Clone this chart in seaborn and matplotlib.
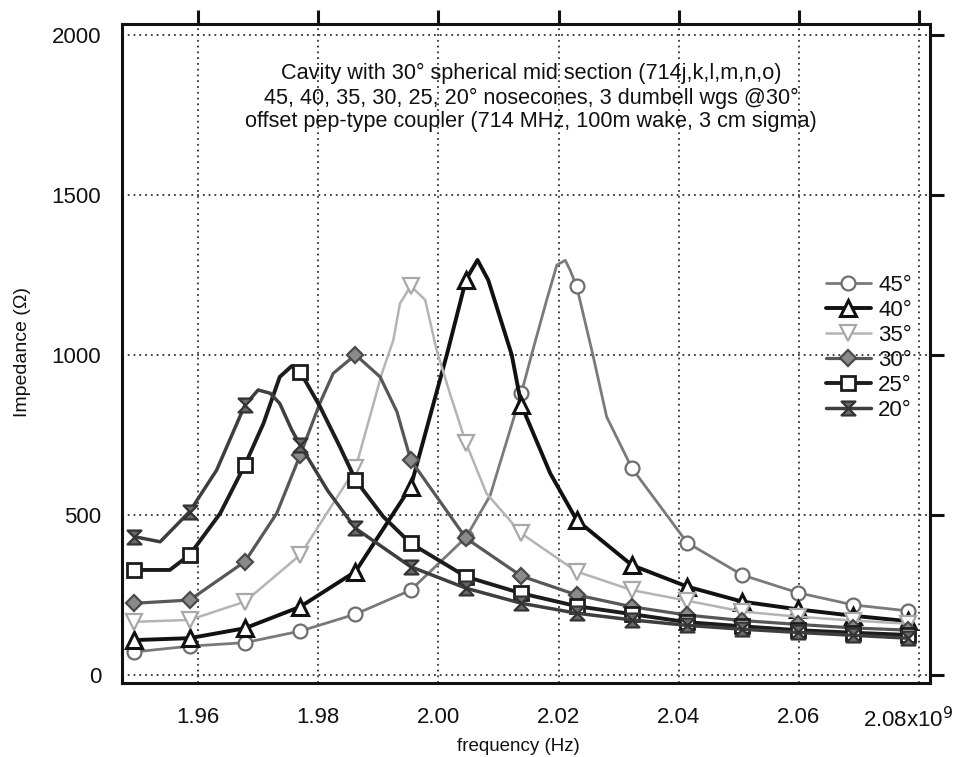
import numpy as np
import pandas as pd
import matplotlib
matplotlib.use("Agg")
import matplotlib.pyplot as plt
import matplotlib.transforms as mtransforms
from matplotlib.path import Path
import seaborn as sns

# ---------------- data (frequency in GHz) ----------------
marker_freq = [1.9494, 1.9586, 1.9678, 1.9770, 1.9862, 1.9954, 2.0046, 2.0138,
               2.0230, 2.0322, 2.0414, 2.0506, 2.0598, 2.0690, 2.0782]

f45 = [1.9494, 1.9586, 1.9678, 1.9770, 1.9862, 1.9954, 2.0046, 2.0086, 2.0138, 2.0155,
       2.0180, 2.0197, 2.0211, 2.0219, 2.0230, 2.0257, 2.0280, 2.0322, 2.0414, 2.0506,
       2.0598, 2.0690, 2.0782]
z45 = [72, 90, 101, 137, 190, 265, 430, 560, 880, 1000,
       1170, 1280, 1295, 1265, 1214, 1000, 806, 646, 413, 312,
       257, 219, 200]

f40 = [1.9494, 1.9586, 1.9678, 1.9770, 1.9862, 1.9954, 2.0014, 2.0046, 2.0065, 2.0083,
       2.0122, 2.0138, 2.0186, 2.0230, 2.0322, 2.0414, 2.0506, 2.0598, 2.0690, 2.0782]
z40 = [109, 115, 146, 213, 323, 588, 1000, 1235, 1296, 1233,
       1000, 843, 630, 484, 343, 276, 229, 205, 185, 168]

f35 = [1.9494, 1.9586, 1.9678, 1.9770, 1.9862, 1.9906, 1.9925, 1.9936, 1.9954, 1.9978,
       1.9997, 2.0019, 2.0046, 2.0080, 2.0138, 2.0230, 2.0322, 2.0414, 2.0506, 2.0598,
       2.0690, 2.0782]
z35 = [166, 172, 229, 375, 645, 942, 1046, 1160, 1215, 1171,
       1015, 880, 724, 567, 442, 323, 265, 232, 198, 182,
       170, 160]

f30 = [1.9494, 1.9586, 1.9678, 1.9731, 1.9770, 1.9803, 1.9825, 1.9862, 1.9903, 1.9931,
       1.9954, 2.0046, 2.0138, 2.0230, 2.0322, 2.0414, 2.0506, 2.0598, 2.0690, 2.0782]
z30 = [224, 234, 354, 505, 687, 850, 942, 1000, 931, 822,
       671, 427, 309, 250, 213, 187, 170, 158, 147, 140]

f25 = [1.9494, 1.9553, 1.9586, 1.9637, 1.9678, 1.9709, 1.9736, 1.9756, 1.9770, 1.9803,
       1.9836, 1.9862, 1.9908, 1.9954, 2.0046, 2.0138, 2.0230, 2.0322, 2.0414, 2.0506,
       2.0598, 2.0690, 2.0782]
z25 = [328, 328, 375, 505, 656, 786, 931, 965, 947, 838,
       713, 609, 495, 411, 307, 255, 215, 190, 165, 152,
       140, 132, 125]

f20 = [1.9494, 1.9537, 1.9586, 1.9631, 1.9678, 1.9700, 1.9720, 1.9736, 1.9756, 1.9770,
       1.9816, 1.9862, 1.9954, 2.0046, 2.0138, 2.0230, 2.0322, 2.0414, 2.0506, 2.0598,
       2.0690, 2.0782]
z20 = [432, 416, 510, 640, 843, 890, 880, 848, 765, 718,
       575, 458, 338, 271, 224, 193, 172, 155, 143, 133,
       124, 115]

series_labels = ["45°", "40°", "35°", "30°", "25°", "20°"]
series_freq = [f45, f40, f35, f30, f25, f20]
series_z = [z45, z40, z35, z30, z25, z20]

xticks = [1.96, 1.98, 2.00, 2.02, 2.04, 2.06, 2.08]
xtick_labels = ["1.96", "1.98", "2.00", "2.02", "2.04", "2.06", "2.08x10$^{9}$"]
yticks = [0, 500, 1000, 1500, 2000]
ytick_labels = ["0", "500", "1000", "1500", "2000"]

title_lines = ["Cavity with 30° spherical mid section (714j,k,l,m,n,o)",
               "45, 40, 35, 30, 25, 20° nosecones, 3 dumbell wgs @30°",
               "offset pep-type coupler (714 MHz, 100m wake, 3 cm sigma)"]

# ---------------- style ----------------
sns.set_theme(style="white")
plt.rcParams["font.family"] = ["Liberation Sans", "DejaVu Sans"]

hourglass = Path([(-1, 1), (1, 1), (-1, -1), (1, -1), (-1, 1)],
                 [Path.MOVETO, Path.LINETO, Path.LINETO, Path.LINETO, Path.CLOSEPOLY])

styles = [
    dict(color="#7a7a7a", lw=2.0, marker="o", ms=10, mfc="white", mec="#6e6e6e", mew=1.6),
    dict(color="#111111", lw=2.8, marker="^", ms=11, mfc="white", mec="#111111", mew=2.2),
    dict(color="#b4b4b4", lw=1.8, marker="v", ms=11, mfc="white", mec="#a8a8a8", mew=1.6),
    dict(color="#575757", lw=2.3, marker="D", ms=8, mfc="#8a8a8a", mec="#4a4a4a", mew=1.6),
    dict(color="#1c1c1c", lw=2.8, marker="s", ms=10, mfc="white", mec="#1c1c1c", mew=2.0),
    dict(color="#3e3e3e", lw=2.5, marker=hourglass, ms=10, mfc="#6a6a6a", mec="#333333", mew=1.6),
]

fig = plt.figure(figsize=(9.56, 7.57), dpi=100)
ax = fig.add_axes([122 / 956, 1 - 683 / 757, (930 - 122) / 956, (683 - 24) / 757])

handles = []
for lab, fr, zz, st in zip(series_labels, series_freq, series_z, styles):
    df = pd.DataFrame({"f": fr, "z": zz})
    idx = [i for i, v in enumerate(fr) if np.any(np.isclose(v, marker_freq, atol=1e-6))]
    n_before = len(ax.lines)
    sns.lineplot(data=df, x="f", y="z", ax=ax, sort=False, errorbar=None,
                 color=st["color"], linewidth=st["lw"], marker=st["marker"],
                 markersize=st["ms"], markerfacecolor=st["mfc"],
                 markeredgecolor=st["mec"], markeredgewidth=st["mew"],
                 markevery=idx, label=lab)
    handles.append(ax.lines[n_before])

ax.set_xlim(1.94735, 2.0818)
ax.set_ylim(-25, 2033)
ax.set_xticks(xticks)
ax.set_xticklabels(xtick_labels)
ax.set_yticks(yticks)
ax.set_yticklabels(ytick_labels)

ax.grid(True, color="#333333", linestyle=(0, (1, 2.2)), linewidth=1.3)
for sp in ax.spines.values():
    sp.set_visible(True)
    sp.set_color("#111111")
    sp.set_linewidth(2.2)

ax.tick_params(axis="both", direction="out", length=10, width=2.2, color="#111111",
               top=True, right=True, labeltop=False, labelright=False,
               labelsize=16, labelcolor="#111111")
ax.tick_params(axis="x", pad=7)
ax.tick_params(axis="y", pad=5)

# shift the last x label slightly left so it stays inside the figure
lastlab = ax.get_xticklabels()[-1]
lastlab.set_transform(lastlab.get_transform() +
                      mtransforms.ScaledTranslation(-11 / 100, 0, fig.dpi_scale_trans))

ax.set_xlabel("frequency (Hz)", fontsize=13.5, color="#111111")
ax.xaxis.set_label_coords((518 - 122) / 808, (683 - 738) / 659)
ax.set_ylabel("Impedance (Ω)", fontsize=14, color="#111111")
ax.yaxis.set_label_coords((31 - 122) / 808, (683 - 352) / 659)

for line, ypix in zip(title_lines, [73, 98, 122]):
    fig.text(531 / 956, 1 - ypix / 757, line, ha="center", va="center",
             fontsize=15.6, color="#111111")

leg = ax.legend(handles=handles, labels=series_labels, loc="upper left",
                bbox_to_anchor=((815 - 122) / 808, 1 - (264 - 24) / 659),
                frameon=False, fontsize=16, handlelength=2.0, handletextpad=0.35,
                labelspacing=0.18, borderpad=0.0, numpoints=1)
for t in leg.get_texts():
    t.set_color("#111111")

fig.savefig("out.png", dpi=100)
